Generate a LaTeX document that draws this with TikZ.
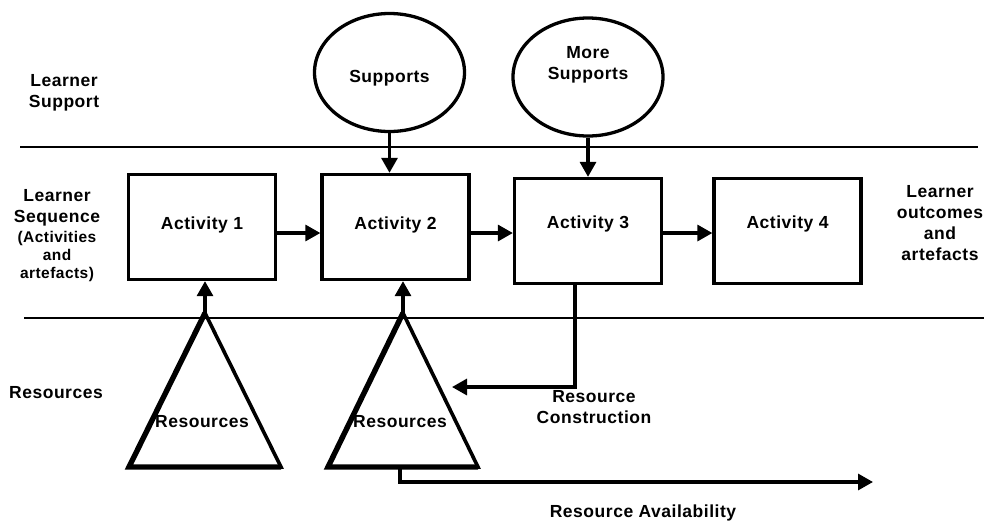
\documentclass[tikz,border=0pt]{standalone}
\usepackage{fontspec}
\setmainfont{Liberation Sans}[LetterSpace=3]
\usetikzlibrary{arrows.meta,shapes.geometric}
\tikzset{
  lbl/.style={font=\fontsize{17.5}{21}\selectfont\bfseries, align=center, inner sep=0pt},
  small/.style={font=\fontsize{15.5}{18}\selectfont\bfseries, align=center, inner sep=0pt},
  box/.style={draw, line width=3.3pt, minimum width=147pt, minimum height=105pt, inner sep=0pt,
    font=\fontsize{17.5}{21}\selectfont\bfseries, text depth=8pt},
  ell/.style={draw, ellipse, line width=3.3pt, minimum width=150pt, minimum height=118pt, inner sep=0pt},
  sep/.style={line width=1.4pt},
  arr/.style={line width=3.2pt, -{Triangle[length=15pt,width=16pt]}},
  tri/.style={line width=3.6pt, line join=miter},
  trithick/.style={line width=5.4pt, line join=miter}
}
\begin{document}
\begin{tikzpicture}[x=1pt,y=-1pt]
\useasboundingbox (0,0) rectangle (986,523);
% separators
\draw[sep] (20,147) -- (978,147);
\draw[sep] (24,318) -- (984,318);
% row labels
\node[lbl, anchor=base] (ls) at (64,107) {Learner\\Support};
\node[lbl, anchor=base] (lseq1) at (57,222) {Learner\\Sequence};
\node[small, anchor=base] (lseq2) at (57,278) {(Activities\\and\\artefacts)};
\node[lbl] (lres) at (56,393) {Resources};
\node[lbl, anchor=base] (lout) at (940,260) {Learner\\outcomes\\and\\artefacts};
% activities
\node[box] (a1) at (202,227) {Activity 1};
\node[box] (a2) at (395.5,227) {Activity 2};
\node[box, text depth=18pt] (a3) at (588,231) {Activity 3};
\node[box, text depth=18pt] (a4) at (787.5,231) {Activity 4};
% supports
\node[ell] (s1) at (389.5,72.5) {};
\node[lbl, anchor=base] (s1t) at (389.5,82) {Supports};
\node[ell] (s2) at (588,77) {};
\node[lbl, anchor=base] (s2t) at (588,79) {More\\Supports};
% triangles
\coordinate (t1apex) at (205,313);
\coordinate (t1l) at (129,467);
\coordinate (t1r) at (281,467);
\coordinate (t2apex) at (403,313);
\coordinate (t2l) at (328,467);
\coordinate (t2r) at (478,467);
\draw[tri] (t1apex) -- (t1r) -- (t1l) -- cycle;
\draw[trithick] (t1r) -- (t1l) -- (t1apex);
\draw[tri] (t2apex) -- (t2r) -- (t2l) -- cycle;
\draw[trithick] (t2r) -- (t2l) -- (t2apex);
\node[lbl] (r1) at (202,422) {Resources};
\node[lbl] (r2) at (400,422) {Resources};
% arrows
\draw[arr] (s1.south) -- (s1.south |- a2.north);
\draw[arr] (s2.south) -- (s2.south |- a3.north);
\draw[arr] ([yshift=-6pt]a1.east) -- ([yshift=-6pt]a1.east -| a2.west);
\draw[arr] ([yshift=-6pt]a2.east) -- ([yshift=-6pt]a2.east -| a3.west);
\draw[arr] ([yshift=-2pt]a3.east) -- ([yshift=-2pt]a3.east -| a4.west);
\draw[arr] (t1apex) -- (t1apex |- a1.south);
\draw[arr] (t2apex) -- (t2apex |- a2.south);
% resource construction
\coordinate (rcend) at (452,387);
\draw[arr, line join=miter] ([xshift=-13pt]a3.south) |- (rcend);
\node[lbl] (rct) at (594,407) {Resource\\Construction};
% resource availability
\coordinate (t2base) at (400,467);
\coordinate (raend) at (873,482);
\draw[arr, line join=miter] (t2base) |- (raend);
\node[lbl] (rat) at (643,513) {Resource Availability};
\end{tikzpicture}
\end{document}
